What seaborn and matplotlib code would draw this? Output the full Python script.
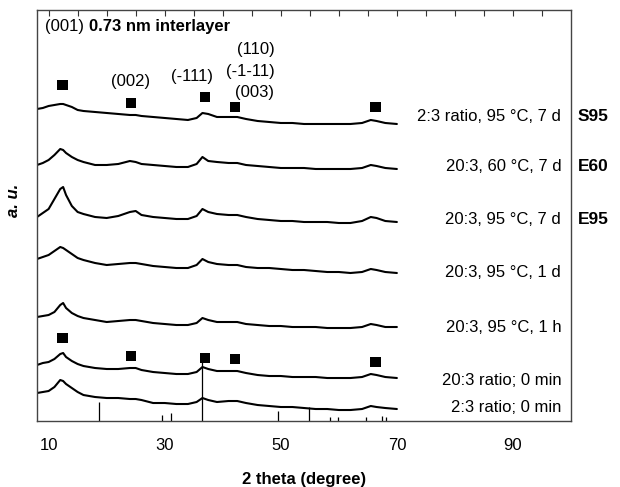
import numpy as np
import pandas as pd
import matplotlib
matplotlib.use('Agg')
import matplotlib.pyplot as plt
import seaborn as sns

sns.set_style('white')
plt.rcParams['font.family'] = ['Liberation Sans', 'DejaVu Sans']
plt.rcParams['text.color'] = 'black'
plt.rcParams['axes.labelcolor'] = 'black'
plt.rcParams['xtick.color'] = 'black'

#2 theta grid shared by all patterns (degree)
theta = [8, 9, 10, 11, 12, 12.5, 13, 14, 15, 16, 18, 20, 22, 24, 25, 26, 28, 30, 32, 34,
         35.5, 36.5, 37.5, 39, 41, 42.5, 44, 46, 48, 50, 52, 54, 56, 58, 60, 62, 64,
         65.5, 66.5, 68, 70]

#intensity above each pattern's own baseline (a.u.), top to bottom
s95_7d = [15, 16, 18, 19, 20, 20, 19, 17, 14, 13, 12, 11, 10, 9, 9, 8, 7, 6, 5, 4,
          6, 11, 10, 7, 7, 7, 5, 3, 2, 1, 1, 0, 0, 0, 0, 0, 1, 4, 3, 1, 0]
e60_7d = [4, 6, 9, 14, 20, 19, 16, 12, 9, 7, 4, 4, 5, 8, 7, 5, 4, 3, 2, 2,
          5, 12, 8, 7, 6, 6, 4, 3, 2, 1, 1, 1, 0, 0, 0, 0, 1, 4, 3, 1, 0]
e95_7d = [6, 10, 14, 24, 34, 36, 28, 17, 11, 9, 6, 5, 7, 11, 12, 8, 6, 5, 4, 4,
          7, 14, 11, 9, 8, 8, 6, 4, 3, 2, 2, 1, 1, 1, 0, 0, 2, 6, 5, 2, 1]
e95_1d = [14, 16, 18, 22, 26, 25, 23, 19, 15, 13, 10, 8, 9, 10, 10, 9, 7, 6, 5, 5,
          8, 14, 11, 9, 8, 8, 6, 5, 5, 4, 3, 3, 2, 1, 1, 0, 1, 4, 3, 1, 0]
e95_1h = [11, 12, 13, 16, 23, 25, 20, 15, 12, 10, 8, 6, 7, 8, 8, 7, 5, 4, 3, 3,
          5, 10, 8, 6, 6, 6, 4, 3, 2, 2, 1, 1, 1, 0, 0, 0, 1, 4, 3, 1, 1]
r20_0min = [13, 15, 16, 19, 24, 25, 21, 17, 14, 12, 10, 9, 9, 10, 10, 8, 6, 5, 4, 4,
            6, 11, 9, 7, 7, 7, 5, 3, 2, 2, 1, 1, 1, 0, 0, 0, 1, 4, 3, 1, 0]
r2_0min = [17, 18, 19, 23, 30, 29, 26, 22, 18, 15, 13, 12, 12, 11, 11, 10, 7, 7, 6, 6,
           8, 12, 10, 8, 9, 9, 7, 5, 4, 3, 3, 2, 1, 1, 0, 0, 1, 4, 3, 2, 1]
patterns = [s95_7d, e60_7d, e95_7d, e95_1d, e95_1h, r20_0min, r2_0min]
offsets = [297, 252, 198, 148, 93, 43, 11]

conditions = ['2:3 ratio, 95 °C, 7 d', '20:3, 60 °C, 7 d', '20:3, 95 °C, 7 d',
              '20:3, 95 °C, 1 d', '20:3, 95 °C, 1 h', '20:3 ratio; 0 min', '2:3 ratio; 0 min']
label_heights = [304, 254, 201, 149, 94, 41, 14]
sample_names = ['S95', 'E60', 'E95']

#reflection markers (squares) for the top and the 20:3 0 min pattern
peak_pos = [12.4, 24.2, 36.9, 42.1, 66.3]
peak_top = [336, 318, 324, 314, 314]
peak_bottom = [83, 65, 63, 62, 59]

#reference stick pattern at the bottom
stick_pos = [18.7, 29.5, 31.0, 36.4, 49.6, 54.8, 58.5, 59.8, 64.6, 67.5, 68.2]
stick_int = [19, 6, 8, 59, 10, 14, 4, 4, 4, 5, 4]

fig = plt.figure(figsize=(6.2, 4.87), dpi=100)
ax = fig.add_axes([0.0597, 0.1355, 0.8613, 0.844])

for vals, off in zip(patterns, offsets):
    sns.lineplot(x=theta, y=np.array(vals) + off, ax=ax, color='black', lw=1.5)

markers = pd.DataFrame({'theta': peak_pos * 2, 'h': peak_top + peak_bottom})
sns.scatterplot(data=markers, x='theta', y='h', marker='s', s=55, color='black',
                edgecolor='none', ax=ax)

ax.vlines(stick_pos, 0, stick_int, color='black', lw=0.9)

#peak labels
ax.text(9.4, 394, '(001)', fontsize=12, va='center')
ax.text(16.9, 394, '0.73 nm interlayer', fontsize=12, fontweight='bold', va='center')
ax.text(24.1, 339, '(002)', fontsize=12, ha='center', va='center')
ax.text(34.7, 344, '(-111)', fontsize=12, ha='center', va='center')
ax.text(48.9, 371, '(110)', fontsize=12, ha='right', va='center')
ax.text(48.9, 349, '(-1-11)', fontsize=12, ha='right', va='center')
ax.text(48.9, 328, '(003)', fontsize=12, ha='right', va='center')

for txt, h in zip(conditions, label_heights):
    ax.text(98.3, h, txt, fontsize=12, ha='right', va='center')
for name, h in zip(sample_names, label_heights[:3]):
    ax.text(101.2, h, name, fontsize=12.5, fontweight='bold', ha='left', va='center',
            clip_on=False)

ax.set_xlim(8, 100)
ax.set_ylim(0, 411)
ax.set_xticks([10, 30, 50, 70, 90])
ax.set_xticks(np.arange(10, 100, 5), minor=True)
ax.set_yticks([])
ax.tick_params(axis='x', which='both', direction='in', top=True, length=4, width=0.8,
               labelsize=12, pad=12, color='#333333')
for sp in ax.spines.values():
    sp.set_color('#444444')
    sp.set_linewidth(1.0)

ax.set_xlabel('2 theta (degree)', fontsize=12, fontweight='bold')
ax.xaxis.set_label_coords(0.5, -0.125)
ax.set_ylabel('a. u.', fontsize=12, fontweight='bold', fontstyle='italic')
ax.yaxis.set_label_coords(-0.03, 0.538)

plt.savefig('out.png', dpi=100)
